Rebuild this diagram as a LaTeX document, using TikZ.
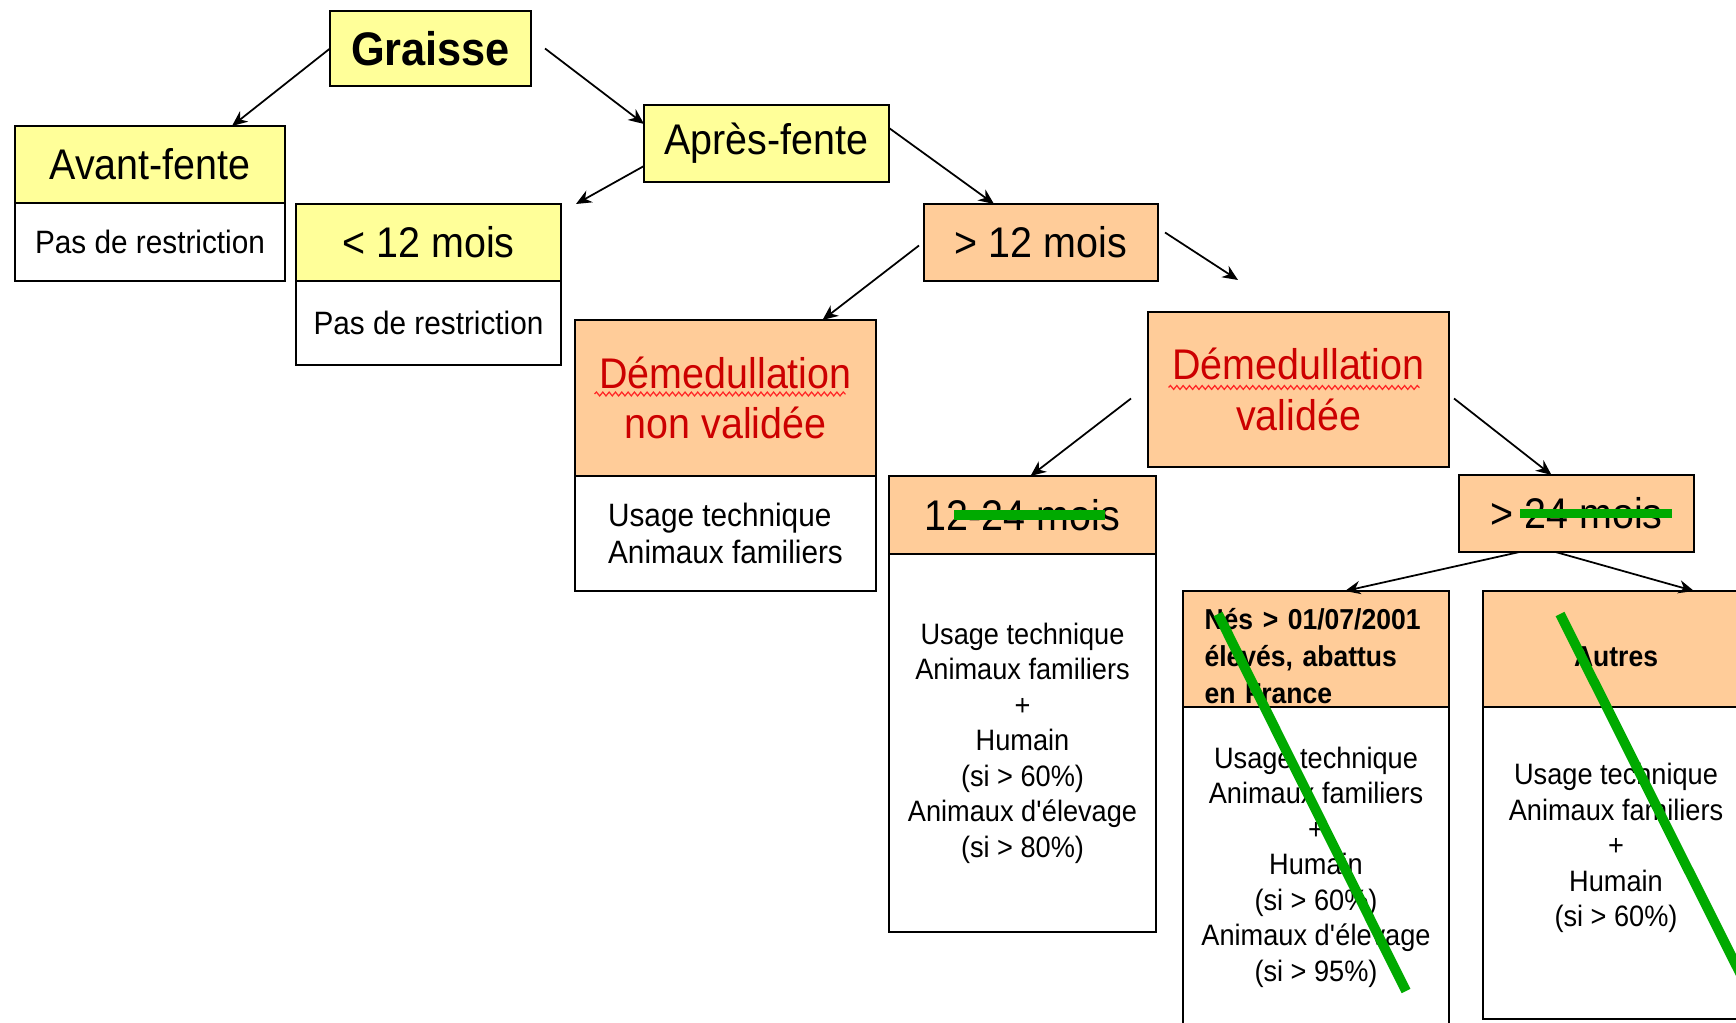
\documentclass[tikz,border=0pt]{standalone}
\usepackage{fontspec}
\setmainfont{Liberation Sans}[FakeStretch=0.92]
\usepackage{xcolor}
\usepackage{tikz}
\usetikzlibrary{positioning,arrows.meta,decorations.pathmorphing}
\definecolor{paleyellow}{HTML}{FFFF99}
\definecolor{peach}{HTML}{FFCC99}
\definecolor{darkred}{HTML}{CC0000}
\definecolor{strikegreen}{HTML}{00AA00}
\newcommand{\ttlfont}{\fontsize{13.4pt}{16pt}\selectfont\bfseries}
\newcommand{\hdfont}{\fontsize{12.2pt}{14.4pt}\selectfont}
\newcommand{\bdfont}{\fontsize{9.2pt}{10.4pt}\selectfont}
\newcommand{\listfont}{\fontsize{8.4pt}{10.1pt}\selectfont}
\newcommand{\nesfont}{\fontsize{8.2pt}{10.5pt}\selectfont\bfseries}
\newcommand{\lowstrut}{\rule{0pt}{10pt}}
\tikzstyle{yellowbox} = [rectangle, draw=black, line width=0.8pt, fill=paleyellow, inner sep=0pt, outer sep=0pt, align=center, font=\hdfont]
\tikzstyle{orangebox} = [rectangle, draw=black, line width=0.8pt, fill=peach, inner sep=0pt, outer sep=0pt, align=center, font=\hdfont]
\tikzstyle{bodybox} = [rectangle, draw=black, line width=0.8pt, fill=white, inner sep=0pt, outer sep=0pt, align=center, font=\bdfont]
\tikzstyle{arrow} = [line width=0.5pt,-{Stealth[length=4.4pt,width=3.8pt]}]
\tikzstyle{strike} = [line width=2.8pt, strikegreen]
\tikzstyle{squiggle} = [red!85, line width=0.35pt, decorate, decoration={snake, amplitude=0.55pt, segment length=1.8pt}]

\begin{document}
\begin{tikzpicture}
	\useasboundingbox (0,0) rectangle (17.36,-10.23);
	\clip (0,0) rectangle (17.36,-10.23);

	\node (graisse) [yellowbox, font=\ttlfont, minimum width=2.01cm, minimum height=0.75cm] at (4.305,-0.485) {Graisse};
	\node (avant) [yellowbox, minimum width=2.70cm, minimum height=0.77cm] at (1.50,-1.645) {Avant-fente};
	\node (avantbody) [bodybox, minimum width=2.70cm, minimum height=0.78cm, below=0pt of avant] {Pas de restriction};
	\node (apres) [yellowbox, minimum width=2.45cm, minimum height=0.77cm] at (7.665,-1.435) {Après-fente};
	\node (moins12) [yellowbox, minimum width=2.65cm, minimum height=0.77cm] at (4.285,-2.425) {< 12 mois};
	\node (moins12body) [bodybox, minimum width=2.65cm, minimum height=0.84cm, below=0pt of moins12] {Pas de restriction};
	\node (plus12) [orangebox, minimum width=2.34cm, minimum height=0.77cm] at (10.41,-2.425) {> 12 mois};

	\node (dnv) [orangebox, text=darkred, minimum width=3.01cm, minimum height=1.56cm] at (7.255,-3.98) {Démedullation\\non validée};
	\node (dnvbody) [bodybox, align=left, minimum width=3.01cm, minimum height=1.15cm, below=0pt of dnv] {Usage technique\\Animaux familiers};
	\node (dv) [orangebox, text=darkred, minimum width=3.01cm, minimum height=1.55cm] at (12.985,-3.895) {Démedullation\\validée};

	\node (m1224) [orangebox, minimum width=2.67cm, minimum height=0.78cm] at (10.225,-5.15) {12-24 mois};
	\node (m1224body) [bodybox, font=\listfont, minimum width=2.67cm, minimum height=3.78cm, below=0pt of m1224] {Usage technique\\Animaux familiers\\+\\Humain\\(si > 60\%)\\Animaux d\textquotesingle élevage\\(si > 80\%)};
	\node (plus24) [orangebox, minimum width=2.35cm, minimum height=0.77cm] at (15.765,-5.135) {> 24 mois};

	\node (nes) [orangebox, font=\nesfont, align=left, text width=2.23cm, minimum width=2.66cm, minimum height=1.16cm] at (13.16,-6.49) {\lowstrut Nés > 01/07/2001\\élevés, abattus\\en France};
	\node (nesbody) [bodybox, font=\listfont, minimum width=2.66cm, minimum height=3.20cm, below=0pt of nes] {Usage technique\\Animaux familiers\\+\\Humain\\(si > 60\%)\\Animaux d\textquotesingle élevage\\(si > 95\%)};
	\node (autres) [orangebox, font=\nesfont, minimum width=2.66cm, minimum height=1.16cm] at (16.16,-6.49) {\lowstrut Autres};
	\node (autresbody) [bodybox, font=\listfont, minimum width=2.66cm, minimum height=3.12cm, below=0pt of autres] {Usage technique\\Animaux familiers\\+\\Humain\\(si > 60\%)\\\mbox{}};

	% spell-check waves
	\draw [squiggle] ([xshift=-1.31cm,yshift=0.04cm]dnv.center) -- ++(2.51,0);
	\draw [squiggle] ([xshift=-1.30cm,yshift=0.02cm]dv.center) -- ++(2.51,0);

	% free ends
	\coordinate (gap12) at ([xshift=0.15cm]moins12.north east);
	\coordinate (gapdv) at ([xshift=0.90cm,yshift=0.32cm]dv.north west);

	\draw [arrow] (graisse.west) -- ([xshift=0.82cm]avant.north);
	\draw [arrow] ([xshift=0.14cm]graisse.east) -- ([yshift=-0.19cm]apres.north west);
	\draw [arrow] ([yshift=0.16cm]apres.south west) -- (gap12);
	\draw [arrow] ([yshift=-0.23cm]apres.north east) -- ([xshift=-0.47cm]plus12.north);
	\draw [arrow] ([xshift=-0.05cm,yshift=-0.03cm]plus12.west) -- ([xshift=0.97cm]dnv.north);
	\draw [arrow] ([xshift=0.07cm,yshift=0.10cm]plus12.east) -- (gapdv);
	\draw [arrow] ([xshift=-0.17cm,yshift=-0.09cm]dv.west) -- ([xshift=0.08cm]m1224.north);
	\draw [arrow] ([xshift=0.05cm,yshift=-0.09cm]dv.east) -- ([xshift=-0.25cm]plus24.north);
	\draw [arrow] ([xshift=-0.57cm]plus24.south) -- ([xshift=0.29cm]nes.north);
	\draw [arrow] ([xshift=-0.21cm]plus24.south) -- ([xshift=0.78cm]autres.north);

	% green crossings
	\draw [strike] ([xshift=-0.685cm,yshift=0.0cm]m1224.center) -- ++(1.51,0);
	\draw [strike] ([xshift=-0.565cm]plus24.center) -- ++(1.52,0);
	\draw [strike] ([xshift=0.35cm,yshift=-0.23cm]nes.north west) -- ++(1.88,-3.77);
	\draw [strike] ([xshift=0.77cm,yshift=-0.23cm]autres.north west) -- ++(1.89,-3.77);

\end{tikzpicture}
\end{document}
